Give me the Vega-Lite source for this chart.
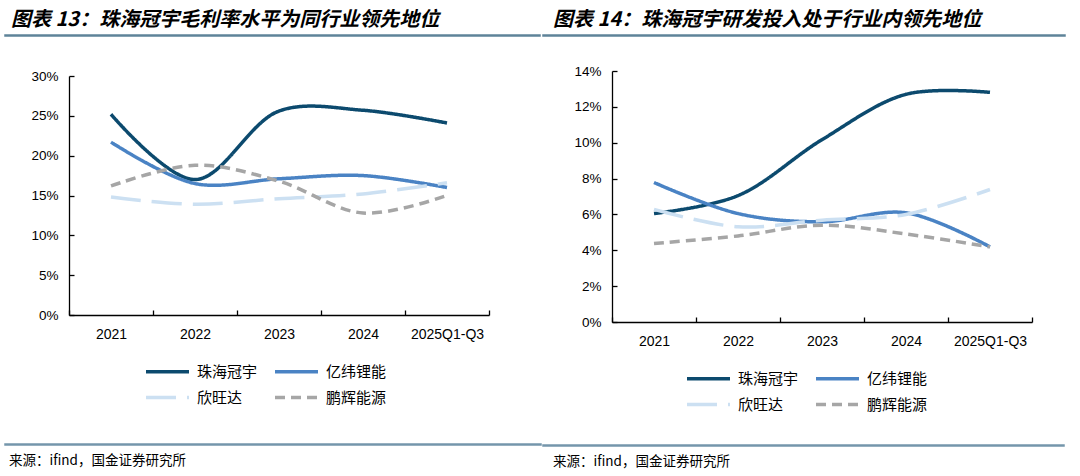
{
  "$schema": "https://vega.github.io/schema/vega-lite/v6.json",
  "padding": {"left": 4, "top": 8, "right": 0, "bottom": 0},
  "background": "white",
  "datasets": {
    "gross": [
      {"year": "2021", "c": "珠海冠宇", "v": 0.252}, {"year": "2022", "c": "珠海冠宇", "v": 0.170}, {"year": "2023", "c": "珠海冠宇", "v": 0.256}, {"year": "2024", "c": "珠海冠宇", "v": 0.257}, {"year": "2025Q1-Q3", "c": "珠海冠宇", "v": 0.241},
      {"year": "2021", "c": "亿纬锂能", "v": 0.217}, {"year": "2022", "c": "亿纬锂能", "v": 0.165}, {"year": "2023", "c": "亿纬锂能", "v": 0.171}, {"year": "2024", "c": "亿纬锂能", "v": 0.175}, {"year": "2025Q1-Q3", "c": "亿纬锂能", "v": 0.160},
      {"year": "2021", "c": "欣旺达", "v": 0.148}, {"year": "2022", "c": "欣旺达", "v": 0.139}, {"year": "2023", "c": "欣旺达", "v": 0.146}, {"year": "2024", "c": "欣旺达", "v": 0.152}, {"year": "2025Q1-Q3", "c": "欣旺达", "v": 0.166},
      {"year": "2021", "c": "鹏辉能源", "v": 0.162}, {"year": "2022", "c": "鹏辉能源", "v": 0.188}, {"year": "2023", "c": "鹏辉能源", "v": 0.168}, {"year": "2024", "c": "鹏辉能源", "v": 0.128}, {"year": "2025Q1-Q3", "c": "鹏辉能源", "v": 0.150}
    ],
    "rd": [
      {"year": "2021", "c": "珠海冠宇", "v": 0.0605}, {"year": "2022", "c": "珠海冠宇", "v": 0.0705}, {"year": "2023", "c": "珠海冠宇", "v": 0.1017}, {"year": "2024", "c": "珠海冠宇", "v": 0.1270}, {"year": "2025Q1-Q3", "c": "珠海冠宇", "v": 0.1281},
      {"year": "2021", "c": "亿纬锂能", "v": 0.0778}, {"year": "2022", "c": "亿纬锂能", "v": 0.0605}, {"year": "2023", "c": "亿纬锂能", "v": 0.0559}, {"year": "2024", "c": "亿纬锂能", "v": 0.0609}, {"year": "2025Q1-Q3", "c": "亿纬锂能", "v": 0.0419},
      {"year": "2021", "c": "欣旺达", "v": 0.0628}, {"year": "2022", "c": "欣旺达", "v": 0.0531}, {"year": "2023", "c": "欣旺达", "v": 0.0568}, {"year": "2024", "c": "欣旺达", "v": 0.0600}, {"year": "2025Q1-Q3", "c": "欣旺达", "v": 0.0739},
      {"year": "2021", "c": "鹏辉能源", "v": 0.0438}, {"year": "2022", "c": "鹏辉能源", "v": 0.0480}, {"year": "2023", "c": "鹏辉能源", "v": 0.0540}, {"year": "2024", "c": "鹏辉能源", "v": 0.0491}, {"year": "2025Q1-Q3", "c": "鹏辉能源", "v": 0.0419}
    ]
  },
  "config": {
    "view": {"stroke": null},
    "font": "Liberation Sans",
    "axis": {"domainColor": "#000", "domainWidth": 1.3, "tickColor": "#000", "tickWidth": 1.3, "labelColor": "#000", "grid": false, "labelFont": "Liberation Sans"},
    "legend": {"orient": "none", "direction": "horizontal", "columns": 2, "symbolType": "M-2,0H2", "symbolSize": 462, "symbolStrokeWidth": 3.5, "labelFont": "Noto Sans CJK SC", "labelFontSize": 15, "labelColor": "#000", "labelOffset": 17, "columnPadding": 10, "rowPadding": 5, "padding": 0},
    "title": {"font": "Noto Sans CJK SC", "color": "#000", "anchor": "start"}
  },
  "resolve": {"scale": {"color": "independent", "strokeDash": "independent"}},
  "spacing": 0,
  "hconcat": [
    {
      "columns": 1, "align": "none", "spacing": 96,
      "concat": [
        {
          "columns": 1, "align": "none", "spacing": 27,
          "concat": [
            {
              "width": 535, "height": 1,
              "data": {"values": [{}]},
              "mark": {"type": "text"},
              "view": {"stroke": "#5E8399", "strokeWidth": 1.5},
              "title": {"text": "图表 13：珠海冠宇毛利率水平为同行业领先地位", "dx": 6, "offset": 0, "fontSize": 20, "fontWeight": "bold", "fontStyle": "italic"}
            },
            {
              "width": 484, "height": 239,
              "data": {"name": "gross"},
              "mark": {"type": "line", "interpolate": "catmull-rom", "strokeWidth": 3.5, "strokeCap": "butt"},
              "encoding": {
                "x": {"field": "year", "type": "ordinal", "sort": null, "title": null, "bandPosition": 0.5,
                      "scale": {"type": "band", "paddingInner": 0, "paddingOuter": 0, "range": [64, 484]},
                      "axis": {"tickBand": "extent", "labelAngle": 0, "labelFontSize": 14, "tickSize": -5, "labelPadding": 17}},
                "y": {"field": "v", "type": "quantitative", "title": null,
                      "scale": {"domain": [0, 0.3]},
                      "axis": {"offset": -64, "values": [0, 0.05, 0.1, 0.15, 0.2, 0.25, 0.3], "format": ".0%", "labelFontSize": 13.5, "tickSize": -5, "labelPadding": 16}},
                "color": {"field": "c", "type": "nominal", "title": null,
                          "scale": {"domain": ["珠海冠宇", "亿纬锂能", "欣旺达", "鹏辉能源"], "range": ["#0C4A6E", "#4A83C4", "#CCE0F2", "#A6A6A6"]},
                          "legend": {"legendX": 150, "legendY": 324}},
                "strokeDash": {"field": "c", "type": "nominal", "title": null,
                          "scale": {"domain": ["珠海冠宇", "亿纬锂能", "欣旺达", "鹏辉能源"], "range": [[1, 0], [1, 0], [30, 11], [10, 6]]},
                          "legend": {"legendX": 150, "legendY": 324}}
              }
            }
          ]
        },
        {
          "width": 536, "height": 1,
          "data": {"values": [{}]},
          "mark": {"type": "text"},
          "view": {"stroke": "#7496AB", "strokeWidth": 1.5},
          "title": {"text": "来源：ifind，国金证券研究所", "orient": "bottom", "dx": 4, "offset": 4, "fontSize": 13.5, "fontWeight": "normal"}
        }
      ]
    },
    {
      "columns": 1, "align": "none", "spacing": 90,
      "concat": [
        {
          "columns": 1, "align": "none", "spacing": 22,
          "concat": [
            {
              "width": 522, "height": 1,
              "data": {"values": [{}]},
              "mark": {"type": "text"},
              "view": {"stroke": "#5E8399", "strokeWidth": 1.5},
              "title": {"text": "图表 14：珠海冠宇研发投入处于行业内领先地位", "dx": 10, "offset": 0, "fontSize": 20, "fontWeight": "bold", "fontStyle": "italic"}
            },
            {
              "width": 489, "height": 251,
              "data": {"name": "rd"},
              "mark": {"type": "line", "interpolate": "catmull-rom", "strokeWidth": 3.5, "strokeCap": "butt"},
              "encoding": {
                "x": {"field": "year", "type": "ordinal", "sort": null, "title": null, "bandPosition": 0.5,
                      "scale": {"type": "band", "paddingInner": 0, "paddingOuter": 0, "range": [69, 489]},
                      "axis": {"tickBand": "extent", "labelAngle": 0, "labelFontSize": 14, "tickSize": -5, "labelPadding": 17}},
                "y": {"field": "v", "type": "quantitative", "title": null,
                      "scale": {"domain": [0, 0.14]},
                      "axis": {"offset": -69, "values": [0, 0.02, 0.04, 0.06, 0.08, 0.1, 0.12, 0.14], "format": ".0%", "labelFontSize": 13.5, "tickSize": -5, "labelPadding": 16}},
                "color": {"field": "c", "type": "nominal", "title": null,
                          "scale": {"domain": ["珠海冠宇", "亿纬锂能", "欣旺达", "鹏辉能源"], "range": ["#0C4A6E", "#4A83C4", "#CCE0F2", "#A6A6A6"]},
                          "legend": {"legendX": 153, "legendY": 331}},
                "strokeDash": {"field": "c", "type": "nominal", "title": null,
                          "scale": {"domain": ["珠海冠宇", "亿纬锂能", "欣旺达", "鹏辉能源"], "range": [[1, 0], [1, 0], [30, 11], [10, 6]]},
                          "legend": {"legendX": 153, "legendY": 331}}
              }
            }
          ]
        },
        {
          "width": 521, "height": 1,
          "data": {"values": [{}]},
          "mark": {"type": "text"},
          "view": {"stroke": "#7496AB", "strokeWidth": 1.5},
          "title": {"text": "来源：ifind，国金证券研究所", "orient": "bottom", "dx": 10, "offset": 4, "fontSize": 13.5, "fontWeight": "normal"}
        }
      ]
    }
  ]
}
